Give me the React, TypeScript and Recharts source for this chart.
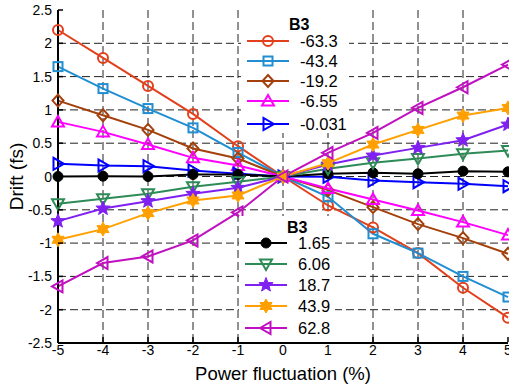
import React from "react";
import { CartesianGrid, Line, LineChart, XAxis, YAxis } from "recharts";

const xs = [-5, -4, -3, -2, -1, 0, 1, 2, 3, 4, 5];
const xTicks = [-5, -4, -3, -2, -1, 0, 1, 2, 3, 4, 5];
const yTicks = [-2.5, -2, -1.5, -1, -0.5, 0, 0.5, 1, 1.5, 2, 2.5];
const xGrid = [-4, -3, -2, -1, 0, 1, 2, 3, 4];
const yGrid = [-2, -1.5, -1, -0.5, 0, 0.5, 1, 1.5, 2];

const s633 = [2.2, 1.78, 1.36, 0.94, 0.455, 0, -0.435, -0.765, -1.15, -1.67, -2.12];
const s434 = [1.65, 1.32, 1.02, 0.73, 0.36, 0, -0.305, -0.86, -1.15, -1.5, -1.81];
const s192 = [1.14, 0.92, 0.7, 0.42, 0.27, 0, -0.205, -0.46, -0.715, -0.925, -1.16];
const s655 = [0.82, 0.67, 0.48, 0.28, 0.165, 0, -0.18, -0.345, -0.51, -0.685, -0.88];
const s0031 = [0.19, 0.165, 0.155, 0.09, 0.04, 0, -0.005, -0.06, -0.085, -0.11, -0.145];
const s165 = [0, 0.005, 0, 0.03, 0.03, 0, 0.04, 0.055, 0.04, 0.08, 0.07];
const s606 = [-0.41, -0.335, -0.26, -0.155, -0.08, 0, 0.115, 0.205, 0.27, 0.34, 0.39];
const s187 = [-0.67, -0.48, -0.37, -0.26, -0.17, 0, 0.18, 0.315, 0.43, 0.545, 0.78];
const s439 = [-0.95, -0.79, -0.55, -0.36, -0.285, 0, 0.2, 0.48, 0.7, 0.915, 1.03];
const s628 = [-1.65, -1.3, -1.2, -0.96, -0.54, 0, 0.355, 0.655, 1.03, 1.34, 1.68];

const legendTop = ["-63.3", "-43.4", "-19.2", "-6.55", "-0.031"];
const legendBottom = ["1.65", "6.06", "18.7", "43.9", "62.8"];

type Shape = "circle" | "square" | "diamond" | "up" | "right" | "dot" | "down" | "star" | "hex" | "left";

const series: { key: string; label: string; values: number[]; color: string; shape: Shape }[] = [
  { key: "a", label: legendTop[0], values: s633, color: "#e2401c", shape: "circle" },
  { key: "b", label: legendTop[1], values: s434, color: "#218ed2", shape: "square" },
  { key: "c", label: legendTop[2], values: s192, color: "#a3400c", shape: "diamond" },
  { key: "d", label: legendTop[3], values: s655, color: "#ff00ff", shape: "up" },
  { key: "e", label: legendTop[4], values: s0031, color: "#0000ff", shape: "right" },
  { key: "f", label: legendBottom[0], values: s165, color: "#000000", shape: "dot" },
  { key: "g", label: legendBottom[1], values: s606, color: "#2e8b57", shape: "down" },
  { key: "h", label: legendBottom[2], values: s187, color: "#8020f0", shape: "star" },
  { key: "i", label: legendBottom[3], values: s439, color: "#ffa000", shape: "hex" },
  { key: "j", label: legendBottom[4], values: s628, color: "#c010c0", shape: "left" },
];

const data = xs.map((x, i) => {
  const row: Record<string, number> = { x };
  series.forEach((s) => (row[s.key] = s.values[i]));
  return row;
});

const FONT = "'Liberation Sans', Arial, sans-serif";

function starPoints(cx: number, cy: number, n: number, ro: number, ri: number) {
  const pts: string[] = [];
  for (let k = 0; k < n * 2; k++) {
    const r = k % 2 === 0 ? ro : ri;
    const a = -Math.PI / 2 + (k * Math.PI) / n;
    pts.push(`${cx + r * Math.cos(a)},${cy + r * Math.sin(a)}`);
  }
  return pts.join(" ");
}

function Marker({ cx, cy, shape, color }: { cx: number; cy: number; shape: Shape; color: string }) {
  const open = { fill: "none", stroke: color, strokeWidth: 2 };
  switch (shape) {
    case "circle":
      return <circle cx={cx} cy={cy} r={5} {...open} />;
    case "square":
      return <rect x={cx - 4.5} y={cy - 4.5} width={9} height={9} {...open} />;
    case "diamond":
      return <polygon points={`${cx},${cy - 6} ${cx + 5.5},${cy} ${cx},${cy + 6} ${cx - 5.5},${cy}`} {...open} />;
    case "up":
      return <polygon points={`${cx},${cy - 6} ${cx + 6},${cy + 4.5} ${cx - 6},${cy + 4.5}`} {...open} />;
    case "down":
      return <polygon points={`${cx},${cy + 6} ${cx + 6},${cy - 4.5} ${cx - 6},${cy - 4.5}`} {...open} />;
    case "right":
      return <polygon points={`${cx + 6},${cy} ${cx - 4.5},${cy - 6} ${cx - 4.5},${cy + 6}`} {...open} />;
    case "left":
      return <polygon points={`${cx - 6},${cy} ${cx + 4.5},${cy - 6} ${cx + 4.5},${cy + 6}`} {...open} />;
    case "dot":
      return <circle cx={cx} cy={cy} r={5} fill={color} stroke={color} />;
    case "star":
      return <polygon points={starPoints(cx, cy, 5, 7.5, 3.2)} fill={color} stroke={color} strokeWidth={1} />;
    case "hex":
      return <polygon points={starPoints(cx, cy, 6, 7, 4)} fill={color} stroke={color} strokeWidth={1} />;
  }
  return null;
}

function YTick(p: any) {
  const v = p.payload.value as number;
  return (
    <g>
      <line x1={p.x + 6} x2={p.x + 11} y1={p.y} y2={p.y} stroke="#000" strokeWidth={1.5} />
      <text x={p.x} y={p.y} dy={5} textAnchor="end" fontSize={14} fontFamily={FONT} fill="#000">
        {String(v)}
      </text>
    </g>
  );
}

function XTick(p: any) {
  const v = p.payload.value as number;
  return (
    <g>
      <line x1={p.x} x2={p.x} y1={p.y - 3} y2={p.y - 8} stroke="#000" strokeWidth={1.5} />
      <text x={p.x} y={p.y} dy={10} textAnchor="middle" fontSize={14} fontFamily={FONT} fill="#000">
        {String(v)}
      </text>
    </g>
  );
}

function LegendBox({
  items,
  left,
  top,
  width,
  height,
  rows,
  titleY,
}: {
  items: typeof series;
  left: number;
  top: number;
  width: number;
  height: number;
  rows: number[];
  titleY: number;
}) {
  return (
    <div style={{ position: "absolute", left, top, width, height, background: "#fff" }}>
      <svg width={width} height={height} style={{ display: "block" }}>
        <text x={48} y={titleY} fontSize={16} fontWeight="bold" fontFamily={FONT} fill="#000">
          B3
        </text>
        {items.map((s, i) => {
          const y = rows[i];
          return (
            <g key={s.key}>
              <line x1={6} x2={48} y1={y} y2={y} stroke={s.color} strokeWidth={2} />
              <Marker cx={27} cy={y} shape={s.shape} color={s.color} />
              <text x={59} y={y} dy={6} fontSize={16.5} fontFamily={FONT} fill="#000">
                {s.label}
              </text>
            </g>
          );
        })}
      </svg>
    </div>
  );
}

export default function App() {
  return (
    <div style={{ position: "absolute", left: 0, top: 0, width: 509, height: 392, background: "#fff", fontFamily: FONT }}>
      <LineChart width={509} height={392} data={data} margin={{ top: 10, right: 1, bottom: 0, left: 0 }}>
        <CartesianGrid
          horizontalValues={yGrid}
          verticalValues={xGrid}
          stroke="#222"
          strokeDasharray="8 4"
          strokeWidth={1}
        />
        <XAxis
          type="number"
          dataKey="x"
          domain={[-5, 5]}
          ticks={xTicks}
          interval={0}
          height={49}
          tickSize={0}
          tickMargin={2}
          tickLine={false}
          axisLine={{ stroke: "#000", strokeWidth: 2 }}
          tick={<XTick />}
          label={{ value: "Power fluctuation (%)", position: "insideBottom", offset: 12, fontSize: 18.5, fill: "#000", fontFamily: FONT }}
        />
        <YAxis
          type="number"
          domain={[-2.5, 2.5]}
          ticks={yTicks}
          interval={0}
          width={58}
          tickSize={0}
          tickMargin={6}
          tickLine={false}
          axisLine={{ stroke: "#000", strokeWidth: 2 }}
          tick={<YTick />}
          label={{ value: "Drift (fs)", angle: -90, position: "insideLeft", offset: 16, fontSize: 19, fill: "#000", fontFamily: FONT, style: { textAnchor: "middle" } }}
        />
        {series.map((s) => (
          <Line
            key={s.key}
            type="linear"
            dataKey={s.key}
            stroke={s.color}
            strokeWidth={2}
            isAnimationActive={false}
            dot={(p: any) => <Marker key={`${s.key}-${p.index}`} cx={p.cx} cy={p.cy} shape={s.shape} color={s.color} />}
            activeDot={false}
          />
        ))}
      </LineChart>
      <LegendBox items={series.slice(0, 5)} left={241} top={10} width={108} height={123} rows={[31, 51, 71, 91, 114]} titleY={20} />
      <LegendBox items={series.slice(5)} left={239} top={216} width={96} height={126} rows={[27, 48, 69, 90, 112]} titleY={17} />
    </div>
  );
}
